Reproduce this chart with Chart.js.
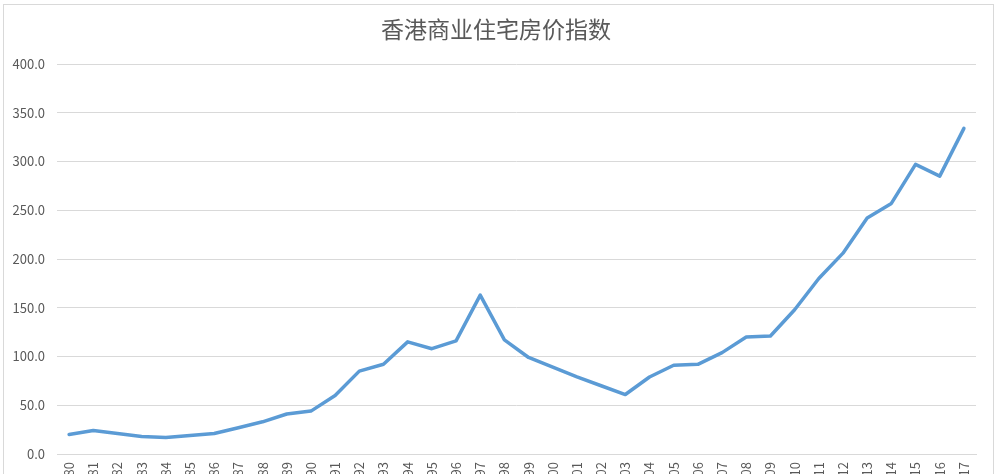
<!DOCTYPE html>
<html>
<head>
<meta charset="utf-8">
<script src="https://cdn.jsdelivr.net/npm/chart.js@4.4.1/dist/chart.umd.min.js"></script>
<style>
  html, body { margin: 0; padding: 0; background: #fff; overflow: hidden; }
  #frame { position: absolute; left: 3px; top: 4px; width: 989px; height: 520px; border: 1px solid #d9d9d9; }
  #wrap { position: absolute; left: 0; top: 0; width: 1000px; height: 520px; }
</style>
</head>
<body>
<div id="frame"></div>
<div id="wrap"><canvas id="lineChart" width="1000" height="520"></canvas></div>
<script>
// años y valores del índice
const years = ['1980','1981','1982','1983','1984','1985','1986','1987','1988','1989',
  '1990','1991','1992','1993','1994','1995','1996','1997','1998','1999',
  '2000','2001','2002','2003','2004','2005','2006','2007','2008','2009',
  '2010','2011','2012','2013','2014','2015','2016','2017'];
const indexValues = [20, 24, 21, 18, 17, 19, 21, 27, 33, 41,
  44, 60, 85, 92, 115, 108, 116, 163, 117, 99,
  89, 79, 70, 61, 79, 91, 92, 104, 120, 121,
  148, 180, 206, 242, 257, 297, 285, 334];
const yTicks = [0, 50, 100, 150, 200, 250, 300, 350, 400];
const chartTitle = '香港商业住宅房价指数';

var ctxL = document.getElementById('lineChart').getContext('2d');
var myLineChart = new Chart(ctxL, {
  type: 'line',
  data: {
    labels: years,
    datasets: [{
      label: chartTitle,
      data: indexValues,
      borderColor: '#5B9BD5',
      backgroundColor: '#5B9BD5',
      borderWidth: 3.5,
      pointRadius: 0,
      tension: 0,
      borderCapStyle: 'round',
      borderJoinStyle: 'round'
    }]
  },
  options: {
    responsive: false,
    animation: false,
    layout: { padding: { left: 0, right: 8, top: 0, bottom: 0 } },
    plugins: {
      legend: { display: false },
      tooltip: { enabled: false },
      title: {
        display: true,
        text: chartTitle,
        color: '#595959',
        font: { family: '"Noto Sans CJK SC", sans-serif', size: 23, weight: 'normal' },
        padding: { top: 15, bottom: 21.4 }
      }
    },
    scales: {
      x: {
        offset: true,
        grid: { display: false, drawTicks: false },
        border: { display: true, color: '#d9d9d9', width: 1 },
        ticks: {
          autoSkip: false,
          minRotation: 90,
          maxRotation: 90,
          padding: 8,
          color: '#595959',
          font: { family: '"Noto Sans CJK SC", sans-serif', size: 13 }
        },
        afterFit: function (scale) { scale.height = 66; }
      },
      y: {
        min: 0,
        max: 400,
        afterBuildTicks: function (scale) { scale.ticks = yTicks.map(v => ({ value: v })); },
        grid: { color: '#d9d9d9', lineWidth: 1, drawTicks: false },
        border: { display: false },
        ticks: {
          padding: 12,
          color: '#595959',
          font: { family: '"Noto Sans CJK SC", sans-serif', size: 13 },
          callback: function (v) { return Number(v).toFixed(1); }
        },
        afterFit: function (scale) { scale.width = 57; }
      },
      // eje vacío a la derecha, solo para dejar margen
      yRight: {
        position: 'right',
        min: 0,
        max: 400,
        grid: { display: false, drawTicks: false },
        border: { display: false },
        ticks: { display: false },
        afterFit: function (scale) { scale.width = 16; }
      }
    }
  }
});
</script>
</body>
</html>
